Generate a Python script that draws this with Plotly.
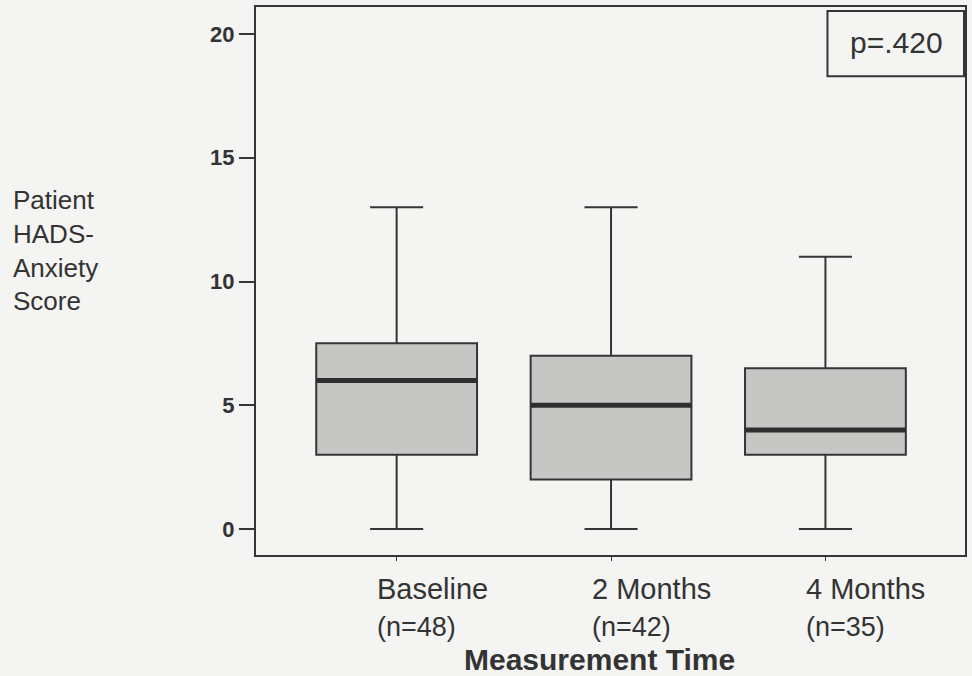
import plotly.graph_objects as go

categories = ["Baseline", "2 Months", "4 Months"]
n_labels = ["(n=48)", "(n=42)", "(n=35)"]
positions = [0, 1, 2]
lower_whisker = [0, 0, 0]
q1 = [3, 2, 3]
median = [6, 5, 4]
q3 = [7.5, 7, 6.5]
upper_whisker = [13, 13, 11]
y_ticks = [0, 5, 10, 15, 20]
p_text = "p=.420"

BOX_W = 0.75
LINE = "#353535"
FILL = "#c6c6c4"
BG = "#f4f4f2"
FONT = "Liberation Sans"

fig = go.Figure()
fig.add_trace(go.Box(
    x=positions, q1=q1, median=median, q3=q3,
    lowerfence=lower_whisker, upperfence=upper_whisker,
    width=BOX_W, whiskerwidth=0.33,
    fillcolor=FILL, line=dict(color=LINE, width=2),
    boxpoints=False, showlegend=False, hoverinfo="skip",
))

# thick median lines
mx, my = [], []
for p, m in zip(positions, median):
    mx += [p - BOX_W / 2, p + BOX_W / 2, None]
    my += [m, m, None]
fig.add_trace(go.Scatter(x=mx, y=my, mode="lines",
                         line=dict(color="#2e2e2e", width=5),
                         showlegend=False, hoverinfo="skip"))

annotations = []
for p, c, n in zip(positions, categories, n_labels):
    annotations.append(dict(x=p - 0.1, y=-0.062, xref="x", yref="paper",
                            text=c, showarrow=False, xanchor="left", yanchor="middle",
                            font=dict(family=FONT, size=29, color="#333")))
    annotations.append(dict(x=p - 0.1, y=-0.131, xref="x", yref="paper",
                            text=n, showarrow=False, xanchor="left", yanchor="middle",
                            font=dict(family=FONT, size=27, color="#333")))
annotations.append(dict(x=0.484, y=-0.19, xref="paper", yref="paper",
                        text="<b>Measurement Time</b>", showarrow=False,
                        xanchor="center", yanchor="middle",
                        font=dict(family=FONT, size=30, color="#333")))
annotations.append(dict(x=-0.345, y=0.555, xref="paper", yref="paper",
                        text="Patient<br>HADS-<br>Anxiety<br>Score", showarrow=False,
                        xanchor="left", yanchor="middle", align="left",
                        font=dict(family=FONT, size=26, color="#333")))
annotations.append(dict(x=0.9035, y=0.935, xref="paper", yref="paper",
                        text=p_text, showarrow=False, xanchor="center", yanchor="middle",
                        font=dict(family=FONT, size=30, color="#333")))

fig.update_layout(
    width=972, height=676,
    margin=dict(l=256, r=5, t=7, b=121),
    paper_bgcolor=BG, plot_bgcolor=BG,
    annotations=annotations,
    shapes=[dict(type="rect", xref="paper", yref="paper",
                 x0=0.806, x1=0.9986, y0=0.8735, y1=0.9927,
                 line=dict(color=LINE, width=2))],
    xaxis=dict(range=[-0.656, 2.651], showgrid=False, zeroline=False,
               showline=True, linecolor=LINE, linewidth=2, mirror=True,
               tickvals=positions, ticktext=["", "", ""], ticks="outside",
               ticklen=4, tickwidth=1, tickcolor=LINE),
    yaxis=dict(range=[-1.05, 21.09], showgrid=False, zeroline=False,
               showline=True, linecolor=LINE, linewidth=2, mirror=True,
               tickvals=y_ticks, ticktext=[f"<b>{t}</b>" for t in y_ticks],
               ticks="outside", ticklen=15, tickwidth=2, tickcolor=LINE,
               tickfont=dict(family=FONT, size=22, color="#333")),
)

fig.write_html(
    "out.html",
    config={"displayModeBar": False},
    post_script="document.body.style.margin='0';"
                "document.body.style.overflow='hidden';"
                "document.body.style.background='#f4f4f2';",
)
